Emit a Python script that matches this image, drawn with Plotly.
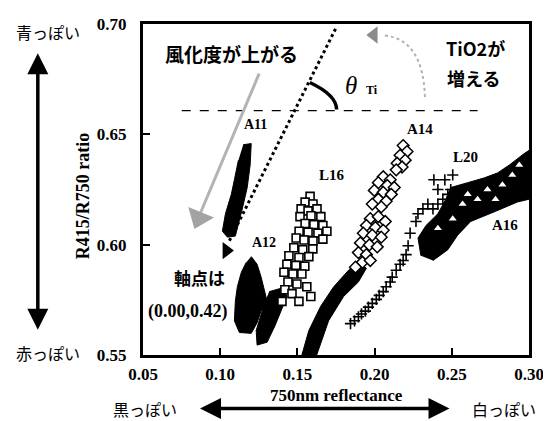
import plotly.graph_objects as go

# ---------------- data ----------------
x_tick_vals = [0.05, 0.10, 0.15, 0.20, 0.25, 0.30]
x_tick_text = ["0.05", "0.10", "0.15", "0.20", "0.25", "0.30"]
y_tick_vals = [0.55, 0.60, 0.65, 0.70]
y_tick_text = ["0.55", "0.60", "0.65", "0.70"]

# A11: dense black streak (outline of the point cloud)
a11_x = [0.1149, 0.1201, 0.1194, 0.1175, 0.1143, 0.1124, 0.1098, 0.1047, 0.1014, 0.1034, 0.1072, 0.1092, 0.1118]
a11_y = [0.6453, 0.6458, 0.6361, 0.6259, 0.6162, 0.6109, 0.6039, 0.6034, 0.6061, 0.6140, 0.6228, 0.6294, 0.6383]

# A12: dense black cloud (outline)
a12_x = [0.1201, 0.1239, 0.1265, 0.1291, 0.1304, 0.1265, 0.1239, 0.1201, 0.1124, 0.1092, 0.1098, 0.1111, 0.1137, 0.1169]
a12_y = [0.5946, 0.5911, 0.5853, 0.5787, 0.5743, 0.5699, 0.5646, 0.5598, 0.5602, 0.5655, 0.5743, 0.5809, 0.5875, 0.5920]

# L16: dense lower part (outline) + open squares
l16_dense_x = [0.1317, 0.1407, 0.1432, 0.1394, 0.1355, 0.1304, 0.1239, 0.1233, 0.1265, 0.1291]
l16_dense_y = [0.5787, 0.5805, 0.5765, 0.5699, 0.5633, 0.5558, 0.5545, 0.5611, 0.5690, 0.5743]
l16_sq_x = [0.1582, 0.1550, 0.1601, 0.1524, 0.1569, 0.1627, 0.1517, 0.1588, 0.1652, 0.1550,
            0.1607, 0.1665, 0.1511, 0.1569, 0.1633, 0.1691, 0.1492, 0.1543, 0.1601, 0.1665,
            0.1477, 0.1535, 0.1600, 0.1445, 0.1510, 0.1574, 0.1432, 0.1490, 0.1548, 0.1413,
            0.1471, 0.1529, 0.1439, 0.1497, 0.1419, 0.1465, 0.1561, 0.1587, 0.1510, 0.1400]
l16_sq_y = [0.6219, 0.6193, 0.6184, 0.6162, 0.6153, 0.6162, 0.6127, 0.6131, 0.6127, 0.6096,
            0.6091, 0.6087, 0.6061, 0.6056, 0.6052, 0.6061, 0.6030, 0.6021, 0.6017, 0.6025,
            0.5986, 0.5977, 0.5981, 0.5950, 0.5942, 0.5946, 0.5911, 0.5906, 0.5902, 0.5875,
            0.5867, 0.5867, 0.5831, 0.5822, 0.5796, 0.5778, 0.5809, 0.5765, 0.5743, 0.5743]

# A14: dense diagonal streak (outline) + open diamonds
a14_dense_x = [0.1529, 0.1574, 0.1651, 0.1735, 0.1831, 0.1895, 0.1947, 0.1895, 0.1799, 0.1702, 0.1625]
a14_dense_y = [0.5500, 0.5611, 0.5721, 0.5809, 0.5884, 0.5928, 0.5893, 0.5831, 0.5765, 0.5655, 0.5500]
a14_dia_x = [0.2185, 0.2210, 0.2165, 0.2198, 0.2146, 0.2178, 0.2140,
             0.2056, 0.2101, 0.2024, 0.2082, 0.2127, 0.1998, 0.2056, 0.2108, 0.2024, 0.2075, 0.1985, 0.2043,
             0.1972, 0.2024, 0.2069, 0.1947, 0.2005, 0.2056, 0.1927, 0.1985, 0.2043, 0.1908, 0.1966, 0.2017,
             0.1895, 0.1947, 0.1921, 0.1972, 0.1876]
a14_dia_y = [0.6449, 0.6422, 0.6405, 0.6383, 0.6369, 0.6352, 0.6339,
             0.6308, 0.6294, 0.6281, 0.6268, 0.6259, 0.6246, 0.6237, 0.6228, 0.6206, 0.6197, 0.6184, 0.6171,
             0.6118, 0.6127, 0.6105, 0.6087, 0.6078, 0.6065, 0.6052, 0.6043, 0.6034, 0.6008, 0.5999, 0.5990,
             0.5964, 0.5955, 0.5920, 0.5928, 0.5898]

# L20: crosses
l20_x = [0.1844, 0.1870, 0.1895, 0.1915, 0.1940, 0.1960, 0.1985, 0.2011, 0.2030, 0.2056, 0.2075,
         0.2101, 0.2114, 0.2140, 0.2165, 0.2185, 0.2204, 0.2217, 0.2230, 0.2268, 0.2281, 0.2313,
         0.2345, 0.2378, 0.2410, 0.2442, 0.2474, 0.2493, 0.2410, 0.2384, 0.2455, 0.2506]
l20_y = [0.5642, 0.5655, 0.5673, 0.5686, 0.5699, 0.5717, 0.5734, 0.5752, 0.5770, 0.5787, 0.5809,
         0.5831, 0.5853, 0.5884, 0.5911, 0.5928, 0.5955, 0.5995, 0.6052, 0.6105, 0.6140, 0.6162,
         0.6184, 0.6162, 0.6184, 0.6206, 0.6228, 0.6250, 0.6250, 0.6294, 0.6294, 0.6316]

# A16: dense cloud (outline) + open triangles inside
a16_x = [0.2300, 0.2281, 0.2333, 0.2410, 0.2461, 0.2493, 0.2603, 0.2712, 0.2796, 0.2873, 0.2969,
         0.3000, 0.3000, 0.2924, 0.2776, 0.2667, 0.2622, 0.2538, 0.2474, 0.2378]
a16_y = [0.5950, 0.6030, 0.6087, 0.6140, 0.6206, 0.6259, 0.6281, 0.6303, 0.6325, 0.6361, 0.6413,
         0.6427, 0.6206, 0.6193, 0.6149, 0.6118, 0.6105, 0.6043, 0.5977, 0.5928]
a16_tri_x = [0.2410, 0.2506, 0.2570, 0.2667, 0.2731, 0.2828, 0.2892, 0.2937, 0.2603, 0.2783]
a16_tri_y = [0.6074, 0.6118, 0.6184, 0.6206, 0.6250, 0.6272, 0.6316, 0.6361, 0.6228, 0.6206]

# guide lines
tilt_line_x = [0.1747, 0.1059]
tilt_line_y = [0.6978, 0.6017]
tilt_end_x = [0.1040]
tilt_end_y = [0.5973]
base_line_x = [0.0751, 0.2667]
base_line_y = [0.6607, 0.6607]
weather_arrow_x = [0.1252, 0.0870]
weather_arrow_y = [0.6775, 0.6140]
weather_head_x = [0.0862]
weather_head_y = [0.6122]

fig = go.Figure()

def blob(xs, ys):
    fig.add_trace(go.Scatter(x=xs, y=ys, mode="lines", fill="toself", fillcolor="black",
                             line=dict(color="black", width=1), hoverinfo="skip"))

blob(a11_x, a11_y)
blob(a12_x, a12_y)
blob(l16_dense_x, l16_dense_y)
blob(a14_dense_x, a14_dense_y)
blob(a16_x, a16_y)

fig.add_trace(go.Scatter(x=l16_sq_x, y=l16_sq_y, mode="markers",
                         marker=dict(symbol="square", size=8, color="white",
                                     line=dict(color="black", width=1.6))))
fig.add_trace(go.Scatter(x=a14_dia_x, y=a14_dia_y, mode="markers",
                         marker=dict(symbol="diamond", size=9, color="white",
                                     line=dict(color="black", width=1.5))))
fig.add_trace(go.Scatter(x=l20_x, y=l20_y, mode="markers",
                         marker=dict(symbol="cross-thin", size=8,
                                     line=dict(color="black", width=1.6))))
fig.add_trace(go.Scatter(x=a16_tri_x, y=a16_tri_y, mode="markers",
                         marker=dict(symbol="triangle-up", size=7, color="white",
                                     line=dict(color="white", width=0))))

# dotted tilt line, dashed reference line
fig.add_trace(go.Scatter(x=tilt_line_x, y=tilt_line_y, mode="lines",
                         line=dict(color="black", width=3, dash="dot")))
fig.add_trace(go.Scatter(x=tilt_end_x, y=tilt_end_y, mode="markers",
                         marker=dict(symbol="triangle-right", size=15, color="black")))
fig.add_trace(go.Scatter(x=base_line_x, y=base_line_y, mode="lines",
                         line=dict(color="black", width=1.3, dash="dash")))

# straight gray arrow (weathering increases)
fig.add_trace(go.Scatter(x=weather_arrow_x, y=weather_arrow_y, mode="lines",
                         line=dict(color="#b3b3b3", width=3)))
fig.add_trace(go.Scatter(x=weather_head_x, y=weather_head_y, mode="markers",
                         marker=dict(symbol="triangle-up", size=24, angle=202,
                                     color="#a3a3a3", line=dict(width=0))))

# curved gray arrow head
fig.add_trace(go.Scatter(x=[0.1995], y=[0.6950], mode="markers",
                         marker=dict(symbol="triangle-left", size=15, color="#8a8a8a")))

# shapes: theta arc and curved gray arrow
fig.add_shape(type="path", xref="x", yref="y",
              path="M 0.1580,0.6735 Q 0.1754,0.6678 0.1754,0.6612",
              line=dict(color="black", width=3.5))
fig.add_shape(type="path", xref="x", yref="y",
              path="M 0.2326,0.6669 Q 0.2313,0.6935 0.2056,0.6948",
              line=dict(color="#b0b0b0", width=2, dash="dot"))

jp = "Noto Sans CJK JP"
serif = "Liberation Serif"

ann = []

def txt(x, y, s, size, family, ref="data", bold=False, **kw):
    xr, yr = ("x", "y") if ref == "data" else ("paper", "paper")
    ann.append(dict(x=x, y=y, xref=xr, yref=yr, text=s, showarrow=False,
                    xanchor="center", yanchor="middle",
                    font=dict(family=family, size=size, color="black",
                              weight="bold" if bold else "normal"), **kw))

txt(0.1072, 0.6868, "風化度が上がる", 19, jp, bold=True)
txt(0.2654, 0.6890, "TiO2が", 18, jp, bold=True)
txt(0.2641, 0.6757, "増える", 18, jp, bold=True)
txt(0.1850, 0.6722, "<i>θ</i>", 25, serif)
txt(0.1983, 0.6703, "Ti", 12, serif, bold=True)
txt(0.1227, 0.6546, "A11", 14, serif, bold=True)
txt(0.1284, 0.6008, "A12", 14, serif, bold=True)
txt(0.1722, 0.6316, "L16", 15, serif, bold=True)
txt(0.2294, 0.6524, "A14", 15, serif, bold=True)
txt(0.2590, 0.6396, "L20", 15, serif, bold=True)
txt(0.2847, 0.6087, "A16", 15, serif, bold=True)
txt(0.0867, 0.5849, "軸点は", 17, jp, bold=True)
txt(0.0789, 0.5699, "(0.00,0.42)", 18, serif, bold=True)

# outside texts
txt(-0.247, 0.976, "青っぽい", 16, jp, ref="paper")
txt(-0.247, 0.006, "赤っぽい", 16, jp, ref="paper")
txt(0.005, -0.162, "黒っぽい", 16, jp, ref="paper")
txt(0.936, -0.162, "白っぽい", 16, jp, ref="paper")
txt(0.5, -0.121, "750nm reflectance", 17, serif, ref="paper", bold=True)
txt(-0.155, 0.48, "R415/R750 ratio", 18, serif, ref="paper", bold=True, textangle=-90)

# double arrows
ann.append(dict(x=-0.2725, y=0.912, xref="paper", yref="paper", ax=0, ay=278, axref="pixel", ayref="pixel",
                text="", showarrow=True, arrowside="end+start", arrowhead=2, startarrowhead=2,
                arrowsize=1.2, startarrowsize=1.2, arrowwidth=3.5, arrowcolor="black"))
ann.append(dict(x=0.794, y=-0.162, xref="paper", yref="paper", ax=-251, ay=0, axref="pixel", ayref="pixel",
                text="", showarrow=True, arrowside="end+start", arrowhead=2, startarrowhead=2,
                arrowsize=1.2, startarrowsize=1.2, arrowwidth=3.5, arrowcolor="black"))

axis_common = dict(showline=True, linewidth=3, linecolor="black", mirror=True, showgrid=False,
                   zeroline=False, ticks="inside", ticklen=7, tickwidth=2, tickcolor="black",
                   tickfont=dict(family=serif, size=17, color="black", weight="bold"))

fig.update_xaxes(range=[0.05, 0.30], tickvals=x_tick_vals, ticktext=x_tick_text,
                 ticklabelstandoff=2, **axis_common)
fig.update_yaxes(range=[0.55, 0.70], tickvals=y_tick_vals, ticktext=y_tick_text,
                 ticklabelstandoff=10, **axis_common)

# page body has an 8px margin, so the figure is drawn 8px in from the window edge
fig.update_layout(width=543, height=413, margin=dict(l=135, r=19, t=7, b=66),
                  paper_bgcolor="white", plot_bgcolor="white", showlegend=False,
                  annotations=ann)

fig.write_html("out.html")
